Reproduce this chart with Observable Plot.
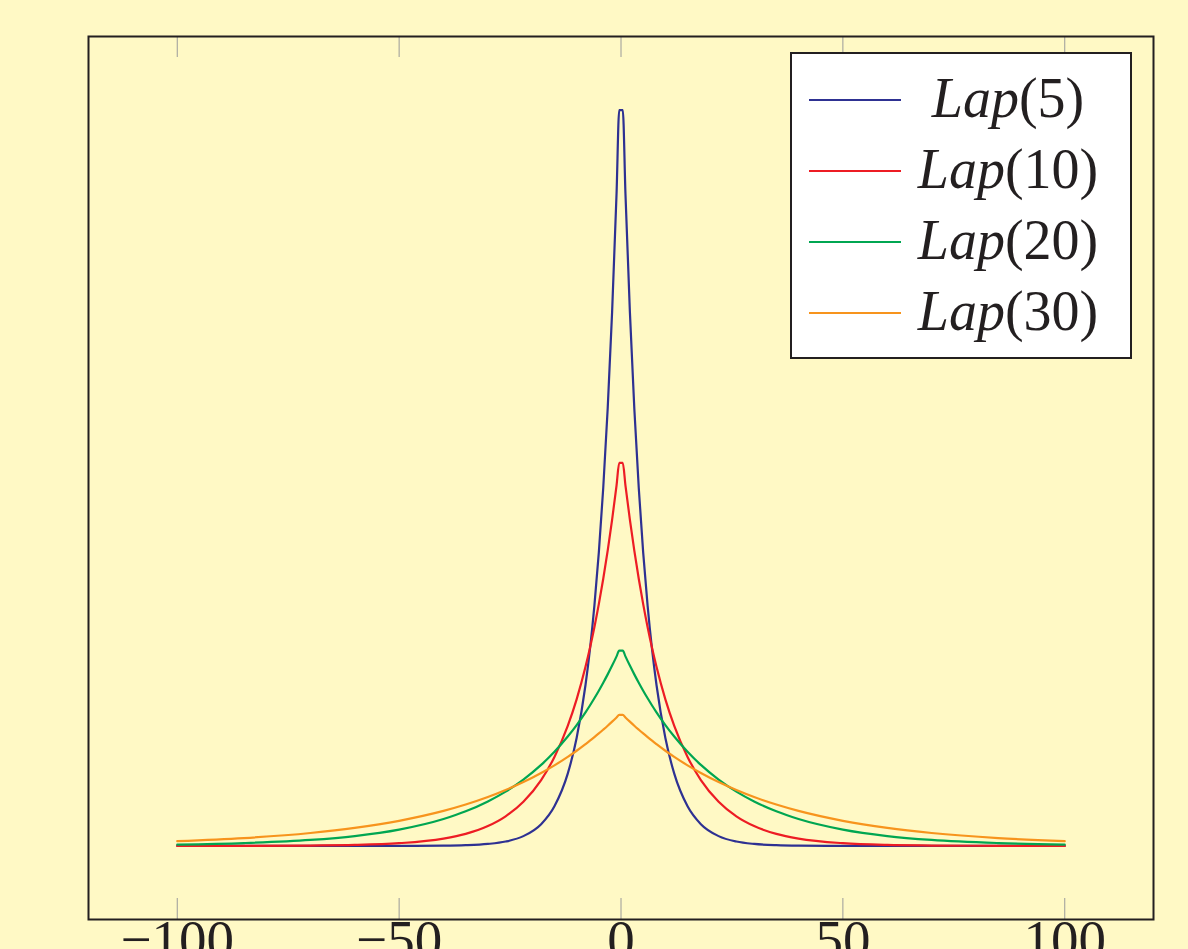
<!DOCTYPE html>
<html><head><meta charset="utf-8">
<script src="https://cdn.jsdelivr.net/npm/d3@7"></script>
<script src="https://cdn.jsdelivr.net/npm/@observablehq/plot@0.6"></script>
<style>html,body{margin:0;padding:0;background:#fff9c5;overflow:hidden}</style>
</head><body><div id="chart"></div>
<script>
// x positions at which the curves were read
const xValues = [-100,-85,-70,-60,-50,-40,-35,-30,-26,-22,-18,-15,-12,-10,-8,-7,-6,-5,-4,-3,-2,-1,-0.4,
                 0.4,1,2,3,4,5,6,7,8,10,12,15,18,22,26,30,35,40,50,60,70,85,100];
const lap5 = [0,0,0,0,0,0.00003,0.00009,0.00025,0.00055,0.00123,0.00273,0.00498,0.00907,0.01353,0.02019,0.02466,0.03012,0.03679,0.04493,0.05488,0.06703,0.08187,0.09231,
              0.09231,0.08187,0.06703,0.05488,0.04493,0.03679,0.03012,0.02466,0.02019,0.01353,0.00907,0.00498,0.00273,0.00123,0.00055,0.00025,0.00009,0.00003,0,0,0,0,0];
const lap10 = [0.00000,0.00001,0.00005,0.00012,0.00034,0.00092,0.00151,0.00249,0.00371,0.00554,0.00826,0.01116,0.01506,0.01839,0.02247,0.02483,0.02744,0.03033,0.03352,0.03704,0.04094,0.04524,0.04804,
               0.04804,0.04524,0.04094,0.03704,0.03352,0.03033,0.02744,0.02483,0.02247,0.01839,0.01506,0.01116,0.00826,0.00554,0.00371,0.00249,0.00151,0.00092,0.00034,0.00012,0.00005,0.00001,0.00000];
const lap20 = [0.00017,0.00036,0.00075,0.00124,0.00205,0.00338,0.00434,0.00558,0.00681,0.00832,0.01016,0.01181,0.01372,0.01516,0.01676,0.01762,0.01852,0.01947,0.02047,0.02152,0.02262,0.02378,0.02450,
               0.02450,0.02378,0.02262,0.02152,0.02047,0.01947,0.01852,0.01762,0.01676,0.01516,0.01372,0.01181,0.01016,0.00832,0.00681,0.00558,0.00434,0.00338,0.00205,0.00124,0.00075,0.00036,0.00017];
const lap30 = [0.00059,0.00098,0.00162,0.00226,0.00315,0.00439,0.00519,0.00613,0.00701,0.00801,0.00915,0.01011,0.01117,0.01194,0.01277,0.01320,0.01365,0.01411,0.01459,0.01508,0.01559,0.01612,0.01645,
               0.01645,0.01612,0.01559,0.01508,0.01459,0.01411,0.01365,0.01320,0.01277,0.01194,0.01117,0.01011,0.00915,0.00801,0.00701,0.00613,0.00519,0.00439,0.00315,0.00226,0.00162,0.00098,0.00059];

const seriesNames = ["Lap(5)","Lap(10)","Lap(20)","Lap(30)"];
const legendParams = ["5","10","20","30"];
const seriesColors = ["#2e3192","#ed1c24","#00a651","#f7941d"];
const xTicks = [-100,-50,0,50,100];
const xTickLabels = ["\u2212100","\u221250","0","50","100"];

const seriesValues = [lap5, lap10, lap20, lap30];
const rows = seriesValues.flatMap((vals, i) => vals.map((y, j) => ({x: xValues[j], y, s: seriesNames[i]})));

const BG = "#fff9c5", INK = "#231f20";
const plot = Plot.plot({
  width: 1188, height: 949,
  marginLeft: 88, marginRight: 35, marginTop: 36, marginBottom: 30,
  style: {background: BG, fontFamily: "'Liberation Serif', serif", overflow: "hidden"},
  x: {domain: [-120, 120]},
  y: {domain: [-0.00923, 0.10154], axis: null},
  color: {domain: seriesNames, range: seriesColors},
  marks: [
    Plot.line(rows, {x: "x", y: "y", z: "s", stroke: "s", strokeWidth: 2.2, curve: "monotone-x"}),
    Plot.tickX(xTicks, {x: d => d, stroke: "#9a9a9a", strokeWidth: 1, insetTop: 862}),
    Plot.tickX(xTicks, {x: d => d, stroke: "#9a9a9a", strokeWidth: 1, insetBottom: 862}),
    Plot.frame({stroke: INK, strokeWidth: 2}),
    Plot.axisX(xTicks, {anchor: "bottom", tickSize: 0, tickPadding: -1, fontSize: 55, fill: INK,
      tickFormat: d => xTickLabels[xTicks.indexOf(d)], label: null})
  ]
});
document.getElementById("chart").appendChild(plot);

// legend box (pgfplots style, inside the axes, top right)
const svg = d3.select(plot);
const g = svg.append("g").attr("class", "legend");
g.append("rect").attr("x", 791).attr("y", 53).attr("width", 340).attr("height", 305)
  .attr("fill", "white").attr("stroke", INK).attr("stroke-width", 2);
seriesNames.forEach((name, i) => {
  const cy = 100 + i * 71;
  g.append("line").attr("x1", 809).attr("x2", 901).attr("y1", cy).attr("y2", cy)
    .attr("stroke", seriesColors[i]).attr("stroke-width", 2.2);
  const t = g.append("text").attr("x", 1008).attr("y", cy + 17).attr("text-anchor", "middle")
    .attr("font-size", 56).attr("fill", INK).style("font-family", "'Liberation Serif', serif");
  t.append("tspan").attr("font-style", "italic").text("Lap");
  t.append("tspan").text("(" + legendParams[i] + ")");
});
</script>
</body></html>
